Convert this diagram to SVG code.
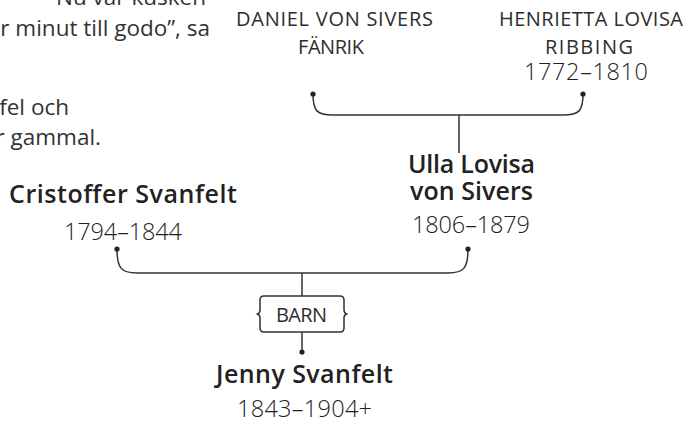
<svg xmlns="http://www.w3.org/2000/svg" width="691" height="421" viewBox="0 0 691 421">
<style>
.body{font-family:"Open Sans","Noto Sans",sans-serif;font-size:22.5px;fill:#333;}
.lbl{font-family:"Open Sans","Noto Sans",sans-serif;font-size:20px;font-weight:400;fill:#2e2e2e;}
.name{font-family:"Open Sans","Noto Sans",sans-serif;font-size:25px;font-weight:600;fill:#222;}
.date{font-family:"Open Sans","Noto Sans",sans-serif;font-size:23.5px;font-weight:300;fill:#222;}
.ln{fill:none;stroke:#333;stroke-width:1.5;}
.dot{fill:#222;}
</style>
<rect width="691" height="421" fill="#fff"/>
<g id="prose">
<text class="body" x="206" y="5" text-anchor="end">Nu var kusken</text>
<text class="body" x="210" y="36" text-anchor="end">r minut till godo”, sa</text>
<text class="body" x="69" y="115" text-anchor="end">fel och</text>
<text class="body" x="101" y="145" text-anchor="end">r gammal.</text>
</g>
<g id="connectors">
<path class="ln" d="M313,94 C313,111 317,115 333,115 H563 C579,115 583,111 583,94"/>
<path class="ln" d="M459,115 V153"/>
<circle class="dot" cx="313" cy="94" r="2.6"/>
<circle class="dot" cx="583" cy="94" r="2.6"/>
<path class="ln" d="M117,249 C117,268 121,273 137,273 H448 C464,273 468,268 468,249"/>
<path class="ln" d="M302,273 V296"/>
<circle class="dot" cx="117" cy="249" r="2.6"/>
<circle class="dot" cx="468" cy="249" r="2.6"/>
<path class="ln" d="M302,332 V352"/>
<circle class="dot" cx="302" cy="352" r="2.6"/>
</g>
<g id="daniel">
<text class="lbl" x="236" y="26" textLength="197" lengthAdjust="spacing">DANIEL VON SIVERS</text>
<text class="lbl" x="298" y="54" textLength="66" lengthAdjust="spacing">FÄNRIK</text>
</g>
<g id="henrietta">
<text class="lbl" x="499" y="26" textLength="184" lengthAdjust="spacing">HENRIETTA LOVISA</text>
<text class="lbl" x="545" y="54" textLength="88" lengthAdjust="spacing">RIBBING</text>
<text class="date" x="524" y="80" textLength="124" lengthAdjust="spacing">1772–1810</text>
</g>
<g id="ulla">
<text class="name" x="408" y="173" textLength="127" lengthAdjust="spacing">Ulla Lovisa</text>
<text class="name" x="410" y="200" textLength="123" lengthAdjust="spacing">von Sivers</text>
<text class="date" x="412" y="233" textLength="118" lengthAdjust="spacing">1806–1879</text>
</g>
<g id="cristoffer">
<text class="name" x="9" y="203" textLength="228" lengthAdjust="spacing">Cristoffer Svanfelt</text>
<text class="date" x="64" y="240" textLength="118" lengthAdjust="spacing">1794–1844</text>
</g>
<g id="barn">
<path class="ln" d="M264,296 H340 Q344,296 344,300 V310 Q344,313 346.5,314 Q344,315 344,318 V328 Q344,332 340,332 H264 Q260,332 260,328 V318 Q260,315 257.5,314 Q260,313 260,310 V300 Q260,296 264,296 Z" fill="#fff"/>
<text class="lbl" x="276" y="322" textLength="51" lengthAdjust="spacing">BARN</text>
</g>
<g id="jenny">
<text class="name" x="216" y="383" textLength="177" lengthAdjust="spacing">Jenny Svanfelt</text>
<text class="date" x="237" y="417" textLength="135" lengthAdjust="spacing">1843–1904+</text>
</g>
</svg>
